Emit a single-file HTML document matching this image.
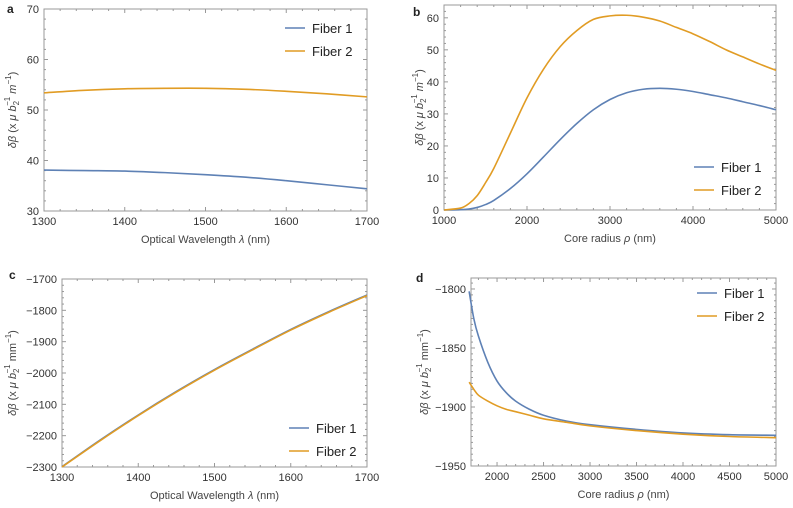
<!DOCTYPE html>
<html><head><meta charset="utf-8"><style>
body{margin:0;background:#fff}
svg{display:block;font-family:"Liberation Sans",sans-serif}
</style></head><body>
<svg id="chart" width="793" height="508" viewBox="0 0 793 508"></svg>
<script>
// Panel a
const aX=[1300,1350,1400,1450,1500,1550,1600,1650,1700];
const aF1=[38.1,38.0,37.9,37.6,37.2,36.7,36.0,35.2,34.4];
const aF2=[53.4,53.9,54.2,54.3,54.3,54.1,53.7,53.2,52.6];
const aXT=[1300,1400,1500,1600,1700];
const aYT=[30,40,50,60,70];
// Panel b
const bX=[1000,1200,1300,1400,1500,1600,1800,2000,2200,2400,2600,2800,3000,3200,3400,3600,3800,4000,4200,4400,4600,4800,5000];
const bF1=[0,0.1,0.3,0.8,1.7,3,6.7,11.3,16.6,22,27,31.3,34.5,36.6,37.7,38,37.7,37,36,35,33.8,32.6,31.3];
const bF2=[0,0.6,2,4.5,8.5,13,24,35,44,51,56,59.5,60.6,60.8,60.2,59,57,55,52.6,50,47.8,45.6,43.6];
const bXT=[1000,2000,3000,4000,5000];
const bYT=[0,10,20,30,40,50,60];
// Panel c
const cX=[1300,1350,1400,1450,1500,1550,1600,1650,1700];
const cF1=[-2299,-2214,-2134,-2059,-1989,-1924,-1861,-1804,-1751];
const cF2=[-2300,-2216,-2136,-2061,-1991,-1926,-1863,-1806,-1753];
const cXT=[1300,1400,1500,1600,1700];
const cYT=[-2300,-2200,-2100,-2000,-1900,-1800,-1700];
// Panel d
const dX=[1700,1750,1800,1900,2000,2100,2200,2350,2500,2750,3000,3500,4000,4500,5000];
const dF1=[-1802,-1825,-1840,-1862,-1878,-1888,-1895,-1902,-1907,-1912,-1915,-1919,-1922,-1923.5,-1924];
const dF2=[-1879,-1885,-1890,-1895,-1899,-1902,-1904,-1907,-1910,-1913,-1916,-1920,-1923,-1925,-1926];
const dXT=[2000,2500,3000,3500,4000,4500,5000];
const dYT=[-1950,-1900,-1850,-1800];

const NS="http://www.w3.org/2000/svg";
const svg=document.getElementById('chart');
function el(tag,attrs,parent){const e=document.createElementNS(NS,tag);for(const k in attrs)e.setAttribute(k,attrs[k]);(parent||svg).appendChild(e);return e;}
const BLUE="#5e81b5",ORANGE="#e19c24";

function smoothPath(pts){
  let d='M'+pts[0][0].toFixed(2)+','+pts[0][1].toFixed(2);
  for(let i=0;i<pts.length-1;i++){
    const p0=pts[i-1]||pts[i],p1=pts[i],p2=pts[i+1],p3=pts[i+2]||p2;
    const c1=[p1[0]+(p2[0]-p0[0])/6,p1[1]+(p2[1]-p0[1])/6];
    const c2=[p2[0]-(p3[0]-p1[0])/6,p2[1]-(p3[1]-p1[1])/6];
    d+='C'+c1.map(v=>v.toFixed(2)).join(',')+' '+c2.map(v=>v.toFixed(2)).join(',')+' '+p2.map(v=>v.toFixed(2)).join(',');
  }
  return d;
}

function panel(o){
  const g=el('g',{});
  
  
  const sx=v=>o.x0+(v-o.xmin)/(o.xmax-o.xmin)*(o.x1-o.x0);
  const sy=v=>o.y1-(v-o.ymin)/(o.ymax-o.ymin)*(o.y1-o.y0);
  const fr=el('rect',{x:o.x0,y:o.y0,width:o.x1-o.x0,height:o.y1-o.y0,fill:'none',stroke:'#999','stroke-width':1},g);
  
  
  const xs=o.xminor, ys=o.yminor;
  for(let v=Math.ceil(o.xmin/xs)*xs; v<=o.xmax+1e-9; v+=xs){
    const X=sx(v), maj=o.xt.some(t=>Math.abs(t-v)<1e-6), L=maj?4:2;
    el('line',{x1:X,x2:X,y1:o.y1,y2:o.y1-L,stroke:'#999'},g);
    el('line',{x1:X,x2:X,y1:o.y0,y2:o.y0+L,stroke:'#999'},g);
  }
  for(let v=Math.ceil(o.ymin/ys)*ys; v<=o.ymax+1e-9; v+=ys){
    const Y=sy(v), maj=o.yt.some(t=>Math.abs(t-v)<1e-6), L=maj?4:2;
    el('line',{x1:o.x0,x2:o.x0+L,y1:Y,y2:Y,stroke:'#999'},g);
    el('line',{x1:o.x1,x2:o.x1-L,y1:Y,y2:Y,stroke:'#999'},g);
  }
  o.xt.forEach(t=>{const tx=el('text',{x:sx(t),y:o.y1+14,'text-anchor':'middle','font-size':11,fill:'#333'},g);tx.textContent=t;
    
    });
  o.yt.forEach(t=>{const tx=el('text',{x:o.x0-5,y:sy(t)+4,'text-anchor':'end','font-size':11,fill:'#333'},g);tx.textContent=(t<0?'\u2212'+(-t):t);
    
    });
  const xl=el('text',{x:(o.x0+o.x1)/2,y:o.y1+32,'text-anchor':'middle','font-size':11,fill:'#444'},g);
  xl.innerHTML=o.xlabel;
  
  
  const ly=(o.y0+o.y1)/2;
  const yl=el('text',{x:o.ylx,y:ly,'text-anchor':'middle','font-size':11,fill:'#444',transform:`rotate(-90 ${o.ylx} ${ly})`},g);
  yl.innerHTML='<tspan font-style="italic">δβ</tspan> (x <tspan font-style="italic">μ b</tspan><tspan font-size="8" dy="3">2</tspan><tspan font-size="8" dy="-9" dx="-5">−1</tspan><tspan dy="6"> '+o.unit+'</tspan><tspan font-size="8" dy="-5">−1</tspan><tspan dy="5">)</tspan>';
  
  
  const lt=el('text',{x:o.lx,y:o.ly,'font-size':12,'font-weight':'bold',fill:'#222'},g);
  lt.textContent=o.letter;
  
  
  [[o.f1,BLUE,'fiber-1-line'],[o.f2,ORANGE,'fiber-2-line']].forEach(([d,c,n])=>{
    const p=el('path',{d:smoothPath(o.xs.map((x,i)=>[sx(x),sy(d[i])])),fill:'none',stroke:c,'stroke-width':1.6,'stroke-linejoin':'round'},g);
    
    
  });
  [['Fiber 1',BLUE,o.legy],['Fiber 2',ORANGE,o.legy+23]].forEach(([t,c,y])=>{
    const lg=el('g',{},g);
    
    
    el('line',{x1:o.legx,x2:o.legx+20,y1:y,y2:y,stroke:c,'stroke-width':1.6},lg);
    const tx=el('text',{x:o.legx+27,y:y+5,'font-size':13,fill:'#222'},lg);tx.textContent=t;
  });
}
const lam='Optical Wavelength <tspan font-style="italic">λ</tspan> (nm)';
const rho='Core radius <tspan font-style="italic">ρ</tspan> (nm)';
panel({letter:'a',lx:7,ly:13,x0:44,x1:367,y0:9,y1:211,xmin:1300,xmax:1700,ymin:30,ymax:70,xminor:20,yminor:2,xt:aXT,yt:aYT,xs:aX,f1:aF1,f2:aF2,xlabel:lam,unit:'<tspan font-style="italic">m</tspan>',ylx:16,legx:285,legy:28});
panel({letter:'b',lx:413,ly:16,x0:444,x1:776,y0:5,y1:210,xmin:1000,xmax:5000,ymin:0,ymax:64,xminor:200,yminor:2,xt:bXT,yt:bYT,xs:bX,f1:bF1,f2:bF2,xlabel:rho,unit:'<tspan font-style="italic">m</tspan>',ylx:423,legx:694,legy:167});
panel({letter:'c',lx:9,ly:279,x0:62,x1:367,y0:279,y1:467,xmin:1300,xmax:1700,ymin:-2300,ymax:-1700,xminor:20,yminor:20,xt:cXT,yt:cYT,xs:cX,f1:cF1,f2:cF2,xlabel:lam,unit:'mm',ylx:16,legx:289,legy:428});
panel({letter:'d',lx:416,ly:282,x0:471,x1:776,y0:278,y1:466,xmin:1720,xmax:5000,ymin:-1950,ymax:-1790.7,xminor:100,yminor:5,xt:dXT,yt:dYT,xs:dX,f1:dF1,f2:dF2,xlabel:rho,unit:'mm',ylx:428,legx:697,legy:293});
</script>
</body></html>
